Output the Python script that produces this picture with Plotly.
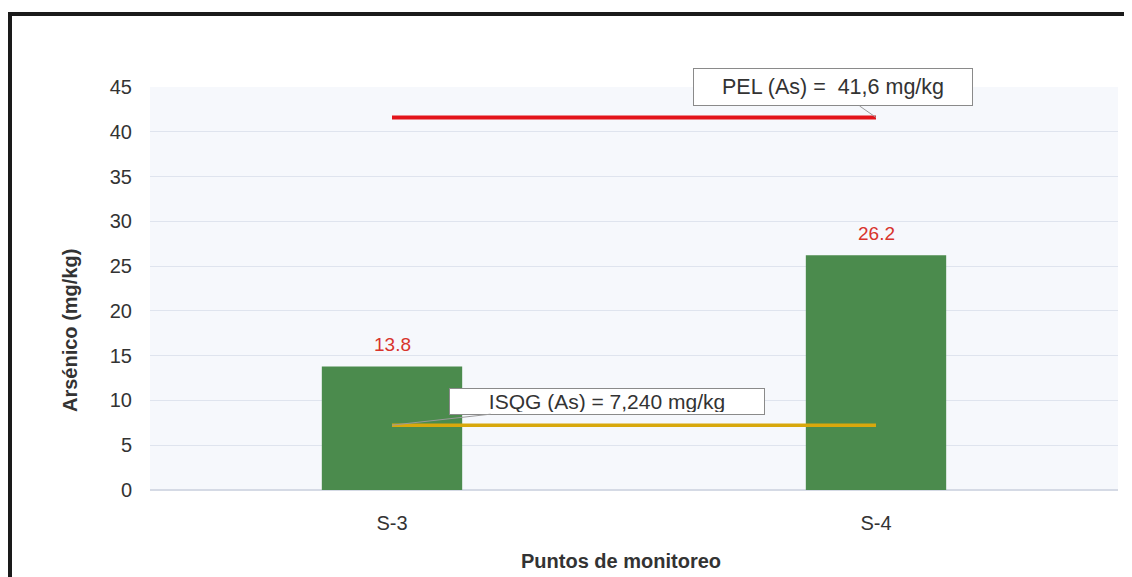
import plotly.graph_objects as go

categories = ["S-3", "S-4"]
arsenic = [13.8, 26.2]
pel_value = 41.6
isqg_value = 7.24
pel_label = "PEL (As) =  41,6 mg/kg"
isqg_label = "ISQG (As) = 7,240 mg/kg"
y_ticks = [0, 5, 10, 15, 20, 25, 30, 35, 40, 45]
x_title = "Puntos de monitoreo"
y_title = "Arsénico (mg/kg)"

# page is rendered with an 8px body margin; work in figure coordinates
OFF = 8
W, H = 1124, 569
L, R, T, B = 150 - OFF, 14, 87 - OFF, 87
pw, ph = W - L - R, H - T - B

def px(x):
    return (x - OFF - L) / pw

def py(y):
    return (H - B - (y - OFF)) / ph

FONT = "Liberation Sans, Arial, sans-serif"

fig = go.Figure()

fig.add_trace(go.Bar(
    x=categories, y=arsenic, width=0.29,
    marker=dict(color="#4b8b4d", line=dict(width=0)),
    showlegend=False, hoverinfo="x+y",
))

fig.add_trace(go.Scatter(
    x=categories, y=[pel_value] * len(categories), mode="lines",
    line=dict(color="#e3141b", width=4), showlegend=False,
))
fig.add_trace(go.Scatter(
    x=categories, y=[isqg_value] * len(categories), mode="lines",
    line=dict(color="#d8a80c", width=3.5), showlegend=False,
))

annotations = []
for c, v in zip(categories, arsenic):
    annotations.append(dict(
        x=c, y=v, text=f"{v:.1f}", showarrow=False, yshift=22,
        font=dict(family=FONT, size=19, color="#d8342c"),
    ))

annotations.append(dict(
    x=categories[1], y=pel_value, text=pel_label, showarrow=True,
    arrowhead=0, arrowwidth=1, arrowcolor="#9a9a9a", ax=-43, ay=-30,
    bgcolor="white", bordercolor="#8a8a8a", borderwidth=1, borderpad=4,
    width=270, height=28,
    font=dict(family=FONT, size=21.5, color="#333333"),
))
annotations.append(dict(
    x=categories[0], y=isqg_value, text=isqg_label, showarrow=True,
    arrowhead=0, arrowwidth=1, arrowcolor="#9a9a9a", ax=215, ay=-24,
    bgcolor="white", bordercolor="#8a8a8a", borderwidth=1, borderpad=2,
    width=310, height=21,
    font=dict(family=FONT, size=21, color="#333333"),
))
annotations.append(dict(
    xref="paper", yref="paper", x=px(621), y=py(561), text=f"<b>{x_title}</b>",
    showarrow=False, xanchor="center", yanchor="middle",
    font=dict(family=FONT, size=20, color="#333333"),
))
annotations.append(dict(
    xref="paper", yref="paper", x=px(70), y=py(331), text=f"<b>{y_title}</b>",
    showarrow=False, xanchor="center", yanchor="middle", textangle=-90,
    font=dict(family=FONT, size=20, color="#333333"),
))

fig.update_layout(
    width=W, height=H,
    margin=dict(l=L, r=R, t=T, b=B),
    paper_bgcolor="white",
    plot_bgcolor="#f6f8fc",
    font=dict(family=FONT, size=16, color="#333333"),
    annotations=annotations,
    shapes=[
        dict(type="line", xref="paper", yref="paper",
             x0=px(6), x1=px(1140), y0=py(14), y1=py(14),
             line=dict(color="#1a1a1a", width=4)),
        dict(type="line", xref="paper", yref="paper",
             x0=px(10), x1=px(10), y0=py(12), y1=py(600),
             line=dict(color="#1a1a1a", width=4)),
    ],
    xaxis=dict(
        range=[-0.5, 1.5], showgrid=False, ticks="", ticklabelstandoff=19,
        tickfont=dict(size=20, color="#333333"),
        showline=False,
    ),
    yaxis=dict(
        range=[0, 45], tickvals=y_ticks, showgrid=True, gridcolor="#dfe4ee",
        gridwidth=1, zeroline=True, zerolinecolor="#d5dae5", ticks="",
        ticklabelstandoff=17, tickfont=dict(size=20, color="#333333"),
        showline=False,
    ),
)

fig.write_html("out.html")
